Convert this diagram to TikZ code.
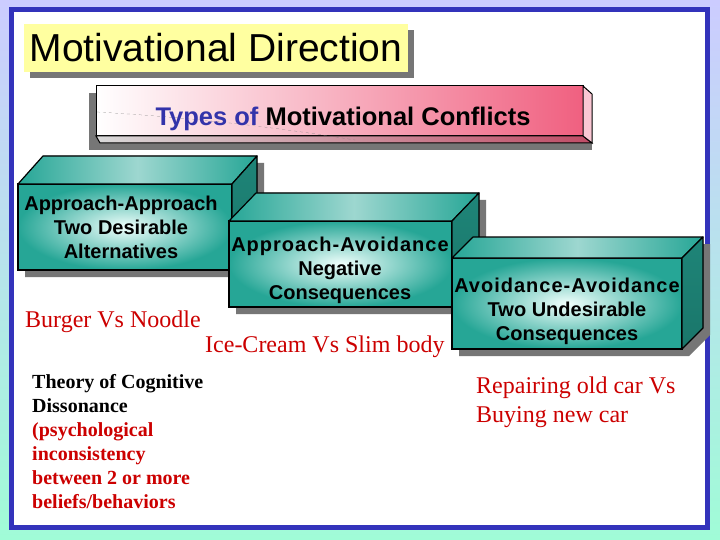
\documentclass[tikz,border=0pt]{standalone}
\usepackage{fontspec}
\setmainfont{Liberation Serif}
\setsansfont{Liberation Sans}
\usepackage{xcolor}
\definecolor{mdteal}{RGB}{38,166,150}
\definecolor{mdtealdark}{RGB}{26,118,106}
\definecolor{mdteallight}{RGB}{240,255,252}
\definecolor{mdyellow}{RGB}{255,255,160}
\definecolor{mdframe}{RGB}{51,51,187}
\definecolor{mdlav}{RGB}{204,204,255}
\definecolor{mdmint}{RGB}{160,252,215}
\definecolor{mdpink}{RGB}{240,96,128}
\definecolor{mdred}{RGB}{204,0,0}
\definecolor{mdblue}{RGB}{51,51,170}
\definecolor{mdshadow}{RGB}{118,118,118}
\usepackage{tikz}
\usetikzlibrary{shadows}
\pgfdeclarelayer{bg}
\pgfdeclarelayer{shade}
\pgfsetlayers{bg,shade,main}

\begin{document}
\begin{tikzpicture}[x=1pt, y=-1pt,
  titlebox/.style={rectangle, fill=mdyellow, minimum width=384pt, minimum height=48pt, inner sep=0pt,
                   font=\sffamily\fontsize{39}{46}\selectfont,
                   drop shadow={shadow xshift=6pt, shadow yshift=-6pt, fill=mdshadow, opacity=1}},
  banner/.style={rectangle, draw=black, line width=1pt, outer sep=0pt, left color=white, right color=mdpink,
                 minimum width=487pt, minimum height=50pt},
  front/.style={rectangle, draw=black, line width=1.2pt, outer sep=0pt, inner color=mdteallight, outer color=mdteal},
  topface/.style={draw=black, line width=1.2pt, line join=round, left color=mdteal, right color=mdteal, middle color=mdteal!45!white},
  sideface/.style={draw=black, line width=1.2pt, line join=round, top color=mdteal!80!black, bottom color=mdtealdark},
  boxshadow/.style={fill=mdshadow},
  boxtxt/.style={font=\sffamily\bfseries\fontsize{20}{24}\selectfont, align=center, inner sep=0pt},
  redtxt/.style={font=\fontsize{24}{29}\selectfont, text=mdred, inner sep=0pt},
  notetxt/.style={font=\bfseries\fontsize{20}{24}\selectfont, align=left, inner sep=0pt}
]
\useasboundingbox (0,0) rectangle (720,540);

% background and frame
\begin{pgfonlayer}{bg}
  \fill[top color=mdlav, bottom color=mdmint] (0,0) rectangle (720,540);
  \filldraw[fill=white, draw=mdframe, line width=5pt] (11.5,9.5) rectangle (707.5,527.5);
\end{pgfonlayer}

% Title
\node[titlebox] (title) at (216,48) {Motivational Direction};

% Types banner
\begin{pgfonlayer}{shade}
  \fill[boxshadow] (89,93) rectangle (592,150);
\end{pgfonlayer}
\node[banner] (types) at (339.5,111) {};
\filldraw[draw=black, line width=1pt, left color=black!15, right color=mdpink!80!black]
  (types.south west) -- (types.south east) -- ++(9,7) -- ([shift={(4,7)}]types.south west) -- cycle;
\filldraw[draw=black, line width=1pt, fill=mdpink!35]
  (types.north east) -- ++(9,8) -- ++(0,49) -- (types.south east) -- cycle;
\draw[dashed, gray, very thin] (97,112) .. controls (200,118) and (280,128) .. (355,140);
\node[font=\sffamily\bfseries\fontsize{25.5}{30}\selectfont] (typestxt) at (343,119)
  {\textcolor{mdblue}{Types of} Motivational Conflicts};

% Approach-Approach
\node[front, minimum width=214pt, minimum height=86pt] (appr) at (125,227) {};
\filldraw[topface] (appr.north west) -- ++(25,-28) -- ++(214,0) -- (appr.north east) -- cycle;
\filldraw[sideface] (appr.north east) -- ++(25,-28) -- ++(0,86) -- (appr.south east) -- cycle;
\begin{pgfonlayer}{shade}
  \fill[boxshadow] ([shift={(7,7)}]appr.south west) -- ([shift={(7,7)}]appr.north west) -- ++(25,-28)
    -- ++(214,0) -- ++(0,86) -- ([shift={(7,7)}]appr.south east) -- cycle;
\end{pgfonlayer}
\node[boxtxt] (apprtxt) at (121,227) {Approach-Approach\\Two Desirable\\Alternatives};

% Approach-Avoidance
\node[front, minimum width=223pt, minimum height=86pt] (avd) at (340.5,264) {};
\filldraw[topface] (avd.north west) -- ++(27,-28) -- ++(223,0) -- (avd.north east) -- cycle;
\filldraw[sideface] (avd.north east) -- ++(27,-28) -- ++(0,86) -- (avd.south east) -- cycle;
\begin{pgfonlayer}{shade}
  \fill[boxshadow] ([shift={(7,7)}]avd.south west) -- ([shift={(7,7)}]avd.north west) -- ++(27,-28)
    -- ++(223,0) -- ++(0,86) -- ([shift={(7,7)}]avd.south east) -- cycle;
\end{pgfonlayer}
\node[boxtxt] (avdtxt) at (340,270) {{\addfontfeatures{LetterSpace=5}Approach-Avoidance}\\Negative\\Consequences};

% Avoidance-Avoidance
\node[front, minimum width=230pt, minimum height=91pt] (avav) at (567,303.5) {};
\filldraw[topface] (avav.north west) -- ++(21,-21) -- ++(230,0) -- (avav.north east) -- cycle;
\filldraw[sideface] (avav.north east) -- ++(21,-21) -- ++(0,91) -- (avav.south east) -- cycle;
\begin{pgfonlayer}{shade}
  \fill[boxshadow] ([shift={(7,7)}]avav.south west) -- ([shift={(7,7)}]avav.north west) -- ++(21,-21)
    -- ++(230,0) -- ++(0,91) -- ([shift={(7,7)}]avav.south east) -- cycle;
\end{pgfonlayer}
\node[boxtxt] (avavtxt) at (567,311.5) {{\addfontfeatures{LetterSpace=5}Avoidance-Avoidance}\\Two Undesirable\\Consequences};

% examples
\node[redtxt, anchor=base west] (burger) at (25,327) {Burger Vs Noodle};
\node[redtxt, anchor=base west] (icecream) at (205,352) {Ice-Cream Vs Slim body};
\node[redtxt, anchor=north west, align=left] (repair) at (476,377) {Repairing old car Vs\\Buying new car};

% dissonance note
\node[notetxt, anchor=north west] (theory) at (32,374)
  {Theory of Cognitive\\Dissonance\\\textcolor{mdred}{(psychological}\\\textcolor{mdred}{inconsistency}\\
   \textcolor{mdred}{between 2 or more}\\\textcolor{mdred}{beliefs/behaviors}};
\end{tikzpicture}
\end{document}
